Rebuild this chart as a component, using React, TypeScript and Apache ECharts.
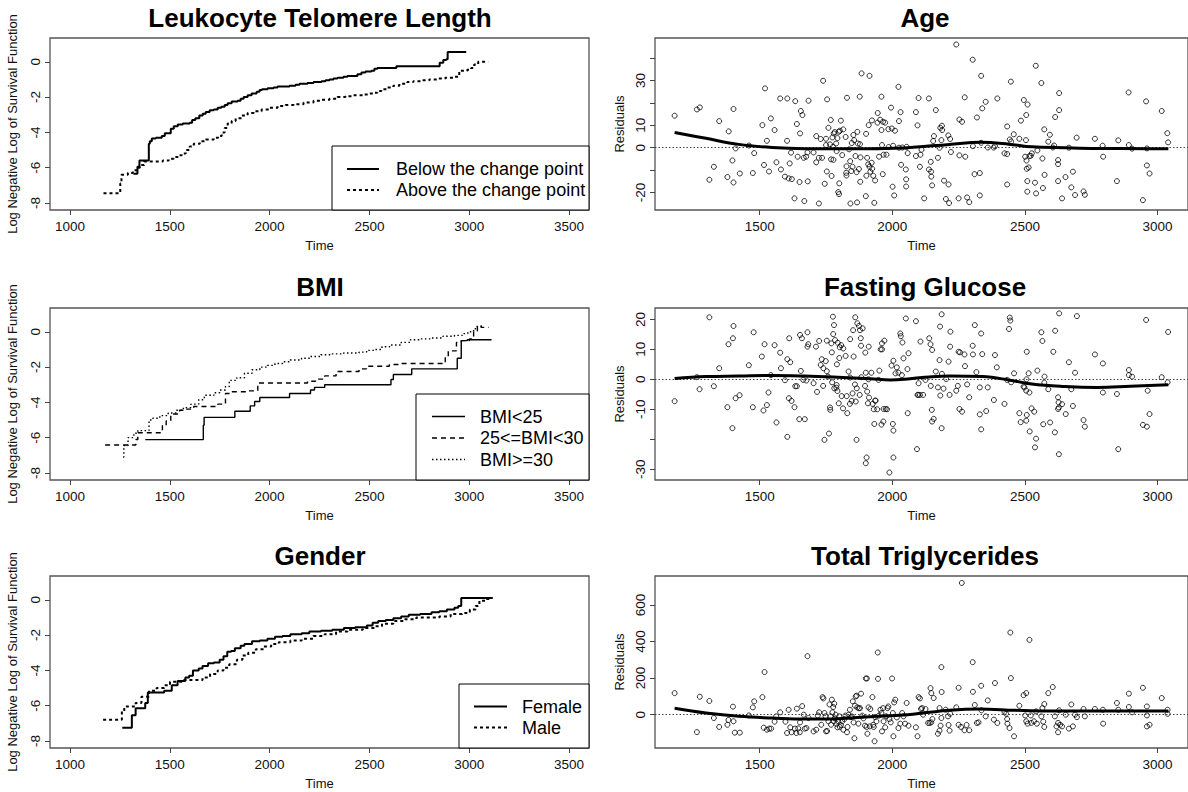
import React, { useEffect, useRef } from "react";
import * as echarts from "echarts";

const FONT = "'Liberation Sans', Arial, sans-serif";

// ---------- Left column: log(-log(S(t))) step curves ----------
const telomereBelow: [number, number][] = [
  [1318, -6.35], [1338, -5.95], [1348, -5.6], [1395, -4.65], [1400, -4.5], [1410, -4.35], [1430, -4.3], [1460, -4.2],
  [1475, -4.05], [1505, -3.8], [1520, -3.65], [1540, -3.55], [1565, -3.5], [1600, -3.45], [1612, -3.3], [1628, -3.2],
  [1648, -3.05], [1665, -2.95], [1680, -2.85], [1700, -2.75], [1720, -2.7], [1740, -2.6], [1758, -2.55], [1775, -2.45],
  [1790, -2.35], [1810, -2.25], [1840, -2.2], [1855, -2.1], [1870, -2.0], [1890, -1.9], [1910, -1.8], [1935, -1.7],
  [1950, -1.6], [1962, -1.55], [1990, -1.5], [2020, -1.45], [2040, -1.4], [2100, -1.35], [2130, -1.3], [2150, -1.25],
  [2190, -1.2], [2220, -1.15], [2260, -1.1], [2280, -1.05], [2300, -1.0], [2320, -0.95], [2340, -0.9], [2370, -0.85],
  [2390, -0.8], [2440, -0.7], [2460, -0.6], [2480, -0.55], [2510, -0.5], [2525, -0.4], [2540, -0.35], [2635, -0.25],
  [2852, -0.05], [2870, 0.1], [2885, 0.15], [2892, 0.55], [2985, 0.55],
];
const telomereAbove: [number, number][] = [
  [1168, -7.45], [1252, -6.9], [1258, -6.4], [1290, -6.3], [1315, -6.15], [1335, -6.0], [1350, -5.85], [1372, -5.65],
  [1465, -5.6], [1495, -5.5], [1520, -5.4], [1540, -5.3], [1560, -5.2], [1580, -5.0], [1600, -4.8], [1620, -4.65],
  [1650, -4.5], [1680, -4.4], [1720, -4.3], [1742, -4.2], [1760, -4.0], [1775, -3.75], [1790, -3.5], [1810, -3.35],
  [1830, -3.2], [1860, -3.05], [1890, -2.9], [1920, -2.8], [1960, -2.7], [2000, -2.6], [2040, -2.5], [2080, -2.45],
  [2120, -2.4], [2170, -2.3], [2220, -2.2], [2260, -2.15], [2300, -2.1], [2340, -2.0], [2380, -1.95], [2420, -1.9],
  [2470, -1.85], [2500, -1.8], [2520, -1.75], [2540, -1.65], [2560, -1.55], [2590, -1.45], [2620, -1.35], [2650, -1.25],
  [2690, -1.15], [2720, -1.1], [2760, -1.05], [2800, -1.0], [2840, -0.95], [2880, -0.9], [2920, -0.85], [2950, -0.5],
  [2990, -0.45], [3010, -0.35], [3025, -0.15], [3045, 0.0], [3095, 0.0],
];
const bmiUnder25: [number, number][] = [
  [1377, -6.11], [1668, -5.3], [1672, -4.85], [1826, -4.5], [1903, -4.2], [1925, -3.95], [1951, -3.72], [2100, -3.5],
  [2205, -3.3], [2225, -3.15], [2276, -3.0], [2608, -2.7], [2620, -2.42], [2712, -2.1], [2940, -1.5], [2960, -0.5],
  [2990, -0.45], [3112, -0.45],
];
const bmi25to30: [number, number][] = [
  [1176, -6.42], [1330, -6.1], [1340, -5.72], [1463, -5.3], [1482, -5.05], [1505, -4.66], [1549, -4.45], [1570, -4.38],
  [1620, -4.23], [1740, -4.1], [1779, -3.5], [1810, -3.4], [1890, -3.35], [1941, -2.9], [2190, -2.8], [2230, -2.68],
  [2276, -2.5], [2333, -2.25], [2448, -2.1], [2486, -1.95], [2600, -1.85], [2659, -1.8], [2880, -1.4], [2895, -1.08],
  [2936, -0.6], [2960, -0.5], [3001, -0.4], [3022, 0.06], [3041, 0.34], [3060, 0.25], [3098, 0.25],
];
const bmiOver30: [number, number][] = [
  [1266, -7.1], [1270, -6.45], [1291, -6.0], [1320, -5.75], [1340, -5.6], [1396, -5.0], [1415, -4.9], [1450, -4.75],
  [1492, -4.6], [1530, -4.45], [1568, -4.3], [1606, -4.1], [1645, -3.85], [1673, -3.6], [1721, -3.45], [1750, -3.3],
  [1779, -3.1], [1798, -2.75], [1836, -2.6], [1874, -2.35], [1912, -2.15], [1951, -2.0], [1989, -1.9], [2027, -1.8],
  [2065, -1.7], [2103, -1.6], [2160, -1.5], [2199, -1.4], [2257, -1.3], [2314, -1.25], [2371, -1.2], [2448, -1.15],
  [2486, -1.05], [2525, -1.0], [2563, -0.85], [2601, -0.75], [2659, -0.6], [2706, -0.45], [2754, -0.4], [2811, -0.35],
  [2869, -0.25], [2926, -0.2], [2965, -0.1], [2993, 0.0], [3022, 0.1], [3031, 0.3], [3069, 0.3],
];
const genderFemale: [number, number][] = [
  [1262, -7.25], [1310, -6.55], [1329, -6.15], [1377, -5.85], [1390, -5.25], [1472, -5.15], [1510, -4.85], [1539, -4.6],
  [1578, -4.4], [1597, -4.3], [1616, -4.0], [1645, -3.9], [1664, -3.75], [1692, -3.6], [1721, -3.55], [1750, -3.4],
  [1769, -3.2], [1788, -2.95], [1807, -2.9], [1826, -2.75], [1855, -2.6], [1874, -2.5], [1912, -2.35], [1951, -2.3],
  [1989, -2.2], [2027, -2.1], [2065, -2.05], [2104, -1.95], [2161, -1.9], [2199, -1.8], [2257, -1.75], [2314, -1.7],
  [2372, -1.6], [2429, -1.55], [2487, -1.45], [2516, -1.3], [2544, -1.2], [2582, -1.15], [2620, -1.05], [2659, -0.95],
  [2697, -0.85], [2754, -0.8], [2811, -0.7], [2850, -0.65], [2888, -0.55], [2926, -0.45], [2945, -0.35], [2960, 0.1],
  [3118, 0.1],
];
const genderMale: [number, number][] = [
  [1166, -6.8], [1260, -6.3], [1272, -6.05], [1329, -5.85], [1358, -5.5], [1396, -5.15], [1434, -5.0], [1472, -4.85],
  [1501, -4.65], [1568, -4.55], [1664, -4.4], [1702, -4.2], [1740, -4.0], [1769, -3.85], [1798, -3.65], [1836, -3.4],
  [1864, -3.15], [1893, -3.0], [1931, -2.8], [1970, -2.65], [2008, -2.5], [2046, -2.4], [2104, -2.3], [2161, -2.2],
  [2219, -2.05], [2276, -1.95], [2333, -1.8], [2391, -1.7], [2467, -1.6], [2525, -1.5], [2563, -1.35], [2620, -1.2],
  [2678, -1.1], [2735, -1.0], [2850, -0.95], [2907, -0.8], [2965, -0.75], [3003, -0.55], [3032, -0.35], [3051, -0.05],
  [3081, 0.05], [3110, 0.05],
];

// ---------- Right column: residuals vs time ----------
const ageResiduals: [number, number][] = [
  [1179, 14.3], [1263, 17.1], [1274, 18.0], [1310, -14.3], [1327, -8.5], [1347, 11.9], [1378, -13.1], [1383, 7.3],
  [1397, -5.7], [1401, 17.3], [1401, -15.5], [1409, -0.3], [1425, -11.5], [1459, 1.0], [1474, -11.3], [1479, -2.4],
  [1510, 10.1], [1516, -7.7], [1520, 26.5], [1527, 3.1], [1535, -10.6], [1542, 13.1], [1556, 7.9], [1563, -6.5],
  [1577, 22.0], [1580, -9.7], [1595, -12.9], [1603, 3.1], [1604, 22.0], [1609, -13.7], [1613, -7.0], [1618, -2.2],
  [1621, -14.0], [1631, -22.6], [1634, 20.8], [1640, 10.6], [1643, -4.0], [1650, -15.3], [1652, 6.4], [1655, 16.4],
  [1661, 14.6], [1666, -4.5], [1668, -23.8], [1675, -4.0], [1680, -2.1], [1681, -15.0], [1684, 21.0], [1703, -2.1],
  [1713, 5.2], [1713, -6.5], [1723, -4.5], [1723, -24.9], [1730, 3.9], [1735, -4.5], [1739, 29.9], [1745, -16.1],
  [1750, 4.0], [1750, 1.2], [1753, -10.6], [1754, 21.6], [1759, 8.9], [1765, 1.5], [1768, 12.4], [1769, -5.2],
  [1771, -12.6], [1774, 4.6], [1776, 0.4], [1778, -5.4], [1779, 6.4], [1783, 7.0], [1788, 1.9], [1790, -1.5],
  [1793, 4.3], [1796, -19.8], [1798, 7.1], [1799, -20.7], [1800, -15.9], [1802, 7.6], [1806, 12.1], [1811, -3.3],
  [1815, 8.2], [1824, 4.8], [1826, -11.2], [1827, -8.3], [1827, -12.4], [1829, 22.3], [1837, -0.7], [1841, -6.0],
  [1842, -24.9], [1845, -10.4], [1847, 2.1], [1850, -8.5], [1853, 5.7], [1856, 3.4], [1861, -3.7], [1865, -10.9],
  [1867, -24.4], [1868, 7.1], [1870, 1.9], [1874, -9.5], [1877, 22.8], [1878, 1.6], [1879, -15.2], [1880, -4.3],
  [1884, 33.2], [1900, -21.6], [1901, 6.2], [1902, -12.5], [1905, -4.5], [1909, -7.4], [1911, 10.1], [1914, 32.1],
  [1914, -8.5], [1917, -10.7], [1922, -6.7], [1923, 12.2], [1924, -9.4], [1928, -12.5], [1932, -24.6], [1935, -14.6],
  [1944, 11.2], [1945, 15.5], [1950, -4.0], [1954, 12.5], [1959, 22.8], [1959, 7.9], [1961, 1.2], [1964, -11.8],
  [1965, 11.6], [1967, -3.1], [1973, 11.2], [1978, -3.1], [1985, 8.3], [1986, 0.3], [1995, 17.9], [1998, 8.6],
  [2001, -17.4], [2003, 0.9], [2007, -21.3], [2010, 7.6], [2023, 27.2], [2025, 11.9], [2025, 0.0], [2031, 15.9],
  [2033, -7.6], [2038, 0.1], [2051, -9.7], [2052, -14.1], [2052, -17.3], [2054, 0.4], [2058, -2.4], [2089, 15.9],
  [2089, -3.7], [2095, 10.0], [2099, 22.2], [2104, -8.5], [2106, -3.1], [2110, -0.9], [2120, -22.6], [2138, 22.0],
  [2164, 16.8], [2138, -9.7], [2145, -6.3], [2146, -10.7], [2147, -12.9], [2150, -16.8], [2154, 3.0], [2157, 5.2],
  [2172, -4.5], [2178, 0.0], [2181, 8.9], [2187, 9.8], [2188, 7.9], [2185, 3.4], [2195, -14.7], [2211, 5.5],
  [2212, -16.4], [2218, 3.9], [2221, -1.9], [2202, -22.9], [2214, -24.7], [2241, 46.1], [2250, -22.6], [2253, 12.6],
  [2263, 11.6], [2253, -3.4], [2273, 22.5], [2275, -4.0], [2282, -22.2], [2290, -24.3], [2303, 39.3], [2304, 0.7],
  [2310, -11.8], [2319, 13.5], [2330, -11.3], [2330, -21.3], [2335, 32.1], [2335, 2.2], [2339, 17.6], [2352, 20.5],
  [2360, 0.1], [2382, 0.1], [2387, 0.7], [2396, 22.0], [2423, -2.5], [2433, 9.5], [2433, -2.8], [2433, -16.4],
  [2443, 3.7], [2447, 29.5], [2448, 2.8], [2458, 6.0], [2479, 4.0], [2485, 12.1], [2496, 21.3], [2501, -4.0],
  [2504, 3.4], [2506, -5.7], [2507, -9.4], [2509, -14.9], [2509, -19.6], [2510, 19.3], [2505, 14.6], [2514, -8.8],
  [2517, -3.7], [2522, -3.6], [2526, -2.5], [2538, -15.6], [2541, 36.6], [2542, -20.4], [2547, -1.2], [2562, 28.9],
  [2566, -4.8], [2568, -18.0], [2573, 8.2], [2574, -12.1], [2588, 2.7], [2594, 5.8], [2605, 0.1], [2610, 1.0],
  [2614, 13.7], [2625, -5.5], [2625, -7.3], [2629, 24.4], [2629, 16.8], [2625, -14.9], [2640, -22.6], [2653, -13.1],
  [2666, 0.0], [2675, -17.7], [2681, -10.7], [2689, -21.1], [2695, 4.5], [2721, -19.5], [2726, -21.0], [2764, 4.0],
  [2793, 0.9], [2795, -4.0], [2847, -14.9], [2852, 3.3], [2891, 24.7], [2892, 1.2], [2904, -0.4], [2945, -23.4],
  [2957, 20.7], [2960, -0.3], [2960, -7.9], [2970, -11.5], [3016, 16.4], [3037, 6.5], [3040, 2.4],
];
const ageSmooth: [number, number][] = [
  [1179, 6.8], [1297, 4.2], [1421, 1.5], [1546, 0.1], [1670, -0.4], [1794, -0.4], [1918, -0.4], [2042, -0.1],
  [2092, 0.3], [2216, 1.5], [2334, 2.4], [2439, 1.6], [2526, 0.4], [2650, 0.0], [2774, -0.3], [2960, -0.4], [3041, -0.4],
];

const glucoseResiduals: [number, number][] = [
  [1179, -7.3], [1263, 0.7], [1273, -3.3], [1310, 20.7], [1327, -2.3], [1347, 3.7], [1378, -9.3], [1382, 11.7],
  [1399, 13.7], [1401, 17.8], [1397, -16.3], [1409, -6.3], [1424, -5.3], [1459, 4.7], [1474, -9.3], [1477, 15.7],
  [1508, 7.6], [1514, -10.4], [1518, 11.7], [1527, -8.6], [1533, -4.4], [1542, 1.4], [1556, 11.4], [1563, -14.4],
  [1577, 8.9], [1580, 3.7], [1595, -0.3], [1604, 6.7], [1604, -19.2], [1611, 13.7], [1610, -6.3], [1615, 5.7],
  [1620, -7.2], [1631, -9.3], [1634, -2.3], [1640, -2.3], [1649, -13.3], [1652, 14.8], [1655, 2.8], [1659, 13.7],
  [1664, -0.2], [1670, -13.3], [1676, -0.4], [1680, 15.7], [1680, 10.9], [1683, 11.7], [1703, -1.3], [1712, 10.9],
  [1716, -4.2], [1724, 12.8], [1730, 4.8], [1734, 6.7], [1739, -2.2], [1740, 3.7], [1744, -20.2], [1749, 6.1],
  [1753, 2.7], [1753, 12.9], [1757, 0.9], [1761, -18.1], [1765, -9.4], [1766, -10.2], [1770, 12.0], [1772, 9.0],
  [1773, -1.0], [1776, 20.9], [1780, 18.1], [1777, 15.1], [1781, -3.0], [1784, 13.1], [1789, -2.8], [1790, -1.9],
  [1791, 5.0], [1793, -3.9], [1794, 12.2], [1798, -8.0], [1800, 7.1], [1802, 10.7], [1807, 11.4], [1809, -5.6],
  [1814, -9.7], [1815, 10.3], [1824, 7.8], [1828, -5.6], [1830, -11.3], [1835, 2.6], [1841, 13.4], [1840, -8.2],
  [1841, 0.6], [1847, -7.2], [1850, -4.7], [1852, 16.4], [1854, 7.6], [1860, 20.7], [1859, -1.7], [1862, -7.4],
  [1865, -20.2], [1866, -3.0], [1868, 18.7], [1874, 17.8], [1877, -5.2], [1878, 16.4], [1881, 13.7], [1882, 11.2],
  [1883, 0.7], [1888, 17.0], [1897, -2.2], [1898, 8.9], [1900, 2.2], [1900, -28.0], [1903, -26.1], [1905, -4.1],
  [1908, -8.0], [1910, 0.0], [1911, 10.9], [1912, -6.1], [1921, 2.2], [1926, -8.2], [1930, -10.0], [1932, -14.9],
  [1935, -7.1], [1937, -7.1], [1943, -10.0], [1948, -0.2], [1951, 2.9], [1956, 10.0], [1959, -15.1], [1961, 10.0],
  [1966, -14.1], [1961, 12.0], [1967, -9.9], [1970, 12.9], [1975, -9.9], [1980, -10.0], [1989, -31.1], [1997, 4.6],
  [2002, -14.9], [2004, 6.2], [2004, -17.1], [2004, -26.1], [2012, 2.0], [2017, 4.0], [2023, 2.2], [2030, 15.3],
  [2032, 14.4], [2036, 1.4], [2038, 12.3], [2042, 7.0], [2051, 20.3], [2057, 3.4], [2058, -11.3], [2061, 8.7],
  [2089, 19.4], [2095, -5.2], [2098, -5.2], [2104, -5.2], [2093, -23.3], [2106, 12.6], [2116, -5.2], [2099, -1.3],
  [2125, -0.2], [2139, 13.7], [2144, 11.7], [2145, -2.2], [2150, 9.8], [2149, -10.2], [2150, -14.1], [2156, -13.2],
  [2164, 2.6], [2172, -2.7], [2178, 6.4], [2180, 17.6], [2181, -5.4], [2186, 21.7], [2187, 1.8], [2186, -16.3],
  [2193, -3.1], [2203, 0.1], [2212, 5.9], [2216, -5.2], [2219, 15.9], [2218, 10.9], [2241, -3.8], [2247, -2.2],
  [2250, 9.2], [2253, -9.9], [2255, 9.0], [2263, -10.8], [2272, 8.3], [2274, 4.4], [2282, -1.7], [2290, -6.0],
  [2303, 11.2], [2304, 8.3], [2311, 18.1], [2317, 2.4], [2330, -2.7], [2330, -11.7], [2335, 15.3], [2335, -16.7],
  [2339, 8.4], [2354, -10.6], [2360, -2.7], [2383, -6.9], [2387, 8.1], [2394, 4.0], [2423, -8.2], [2433, -0.2],
  [2440, 16.8], [2443, 20.6], [2445, 19.6], [2448, -1.0], [2459, 2.0], [2479, -11.3], [2484, -14.3], [2495, -2.4],
  [2498, -2.7], [2505, -3.8], [2506, 0.0], [2507, 9.2], [2507, -11.9], [2505, -13.8], [2514, 2.0], [2517, -4.4],
  [2518, -17.4], [2525, -9.7], [2535, -10.8], [2538, -22.7], [2542, -19.8], [2547, 2.9], [2562, 15.7], [2566, 12.8],
  [2569, -15.0], [2574, 0.9], [2573, -1.1], [2588, -3.3], [2595, -14.4], [2607, 9.2], [2613, -17.7], [2614, 16.2],
  [2625, -6.0], [2627, -7.7], [2628, -9.4], [2625, -9.9], [2628, -25.0], [2629, 22.0], [2640, -8.3], [2654, -11.6],
  [2666, 5.7], [2675, -3.3], [2681, -8.9], [2689, 2.2], [2696, 21.1], [2721, -13.6], [2726, -15.8], [2764, 8.3],
  [2794, 5.3], [2794, -4.4], [2847, -4.9], [2852, -23.3], [2892, 3.1], [2892, 1.4], [2904, 0.9], [2945, -15.2],
  [2957, 19.8], [2960, -15.8], [2963, -3.8], [2970, -11.6], [3016, 0.7], [3038, -1.0], [3040, 15.8],
];
const glucoseSmooth: [number, number][] = [
  [1179, 0.3], [1297, 0.9], [1421, 1.1], [1546, 1.3], [1670, 1.1], [1794, 0.7], [1918, 0.2], [1992, -0.2],
  [2067, 0.2], [2140, 0.8], [2216, 1.1], [2340, 0.9], [2439, -0.2], [2526, -1.6], [2650, -2.4], [2774, -2.7],
  [2898, -2.3], [3041, -1.8],
];

const triglycResiduals: [number, number][] = [
  [1179, 118], [1263, -95], [1274, 98], [1310, 75], [1327, -18], [1347, -67], [1378, -55], [1382, -29],
  [1399, 44], [1401, -36], [1406, -98], [1425, -98], [1459, -4], [1474, 40], [1479, 73], [1510, 96],
  [1515, -71], [1518, 233], [1527, -82], [1536, -76], [1543, -76], [1556, -38], [1562, -9], [1577, 13],
  [1597, -38], [1603, -100], [1609, 27], [1615, -69], [1620, -96], [1633, -76], [1638, -100], [1640, 33],
  [1645, -75], [1651, -96], [1652, -42], [1660, 47], [1666, 0], [1670, -76], [1676, -73], [1680, 320],
  [1684, -18], [1703, -91], [1713, -82], [1719, -4], [1724, 13], [1732, -55], [1737, 96], [1740, 89],
  [1744, 9], [1748, -9], [1750, -91], [1754, -89], [1759, -36], [1763, 56], [1767, -9], [1769, -55],
  [1772, 82], [1774, 13], [1777, 42], [1779, -36], [1781, 60], [1784, -20], [1786, 0], [1789, -49],
  [1793, -69], [1796, -36], [1800, -9], [1802, -67], [1806, -56], [1811, -36], [1815, -82], [1819, -24],
  [1823, -5], [1829, -96], [1831, -67], [1835, 0], [1840, 27], [1844, -13], [1847, -9], [1851, 73],
  [1854, -42], [1857, -129], [1859, 49], [1862, 100], [1865, 104], [1868, 40], [1872, -49], [1874, 35],
  [1878, 36], [1882, 115], [1887, -5], [1891, -20], [1897, -60], [1900, 198], [1903, -67], [1904, 198],
  [1906, -104], [1910, 40], [1915, -64], [1917, 31], [1925, 96], [1928, -55], [1930, -67], [1933, -145],
  [1935, -13], [1940, -36], [1945, 340], [1946, 196], [1949, -5], [1955, 27], [1959, 9], [1961, -91],
  [1965, 36], [1967, -36], [1973, -69], [1977, -9], [1982, 36], [1985, 45], [1989, -24], [1994, -42],
  [1999, 198], [2002, 9], [2004, -118], [2007, 67], [2011, 82], [2017, -15], [2023, -73], [2030, -49],
  [2037, 9], [2042, -9], [2048, -49], [2054, 64], [2061, -60], [2089, -69], [2095, -118], [2099, 96],
  [2104, 89], [2108, 31], [2112, 36], [2116, 0], [2125, 31], [2144, 145], [2147, 118], [2156, 91],
  [2141, -45], [2135, -45], [2147, -42], [2151, -24], [2178, 36], [2185, 260], [2186, 124], [2185, -18],
  [2182, -60], [2172, -104], [2178, -87], [2201, 27], [2210, -9], [2212, -56], [2216, -87], [2218, 5],
  [2241, 40], [2250, 147], [2250, -55], [2259, -67], [2272, -85], [2280, -56], [2290, -85], [2262, 720],
  [2303, 287], [2304, 125], [2311, 53], [2319, -45], [2325, -42], [2335, 158], [2336, 24], [2352, -9],
  [2360, 78], [2383, -27], [2387, 173], [2396, -45], [2423, 16], [2429, 5], [2433, -24], [2434, -49],
  [2442, -73], [2445, 449], [2447, 200], [2459, -118], [2479, 49], [2495, 107], [2505, 118], [2501, -4],
  [2505, -36], [2510, -49], [2517, 409], [2522, -4], [2524, -45], [2534, -36], [2542, 18], [2545, -49],
  [2562, -9], [2566, 36], [2569, -38], [2573, 58], [2573, -67], [2588, 118], [2605, 151], [2613, -9],
  [2619, -64], [2625, -45], [2625, -96], [2629, 24], [2633, -55], [2640, -64], [2654, 0], [2666, -76],
  [2675, 56], [2681, -64], [2689, 0], [2696, -13], [2721, 31], [2726, -9], [2764, 31], [2794, 27],
  [2795, -49], [2847, 64], [2852, 27], [2892, 115], [2892, 42], [2904, 13], [2945, 147], [2960, 45],
  [2960, -4], [2960, -64], [2970, -55], [3016, 91], [3038, 27], [3038, 5],
];
const triglycSmooth: [number, number][] = [
  [1179, 35], [1297, 9], [1421, -9], [1546, -18], [1670, -24], [1794, -22], [1918, -11], [2042, -2],
  [2092, 5], [2216, 24], [2327, 31], [2464, 24], [2588, 20], [2774, 20], [3041, 20],
];

// ---------- Axis tick values ----------
const leftTimeTicks = [1000, 1500, 2000, 2500, 3000, 3500];
const rightTimeTicks = [1500, 2000, 2500, 3000];
const loglogTicks = [-8, -6, -4, -2, 0];
const ageTicks = [-20, -10, 0, 10, 20, 30, 40];
const ageLabels = [-20, 0, 10, 30];
const glucoseTicks = [-30, -20, -10, 0, 10, 20];
const glucoseLabels = [-30, -10, 0, 10, 20];
const triglycTicks = [0, 200, 400, 600];

const panelTitles = ["Leukocyte Telomere Length", "Age", "BMI", "Fasting Glucose", "Gender", "Total Triglycerides"];
const telomereLegend = ["Below the change point", "Above the change point"];
const bmiLegend = ["BMI<25", "25<=BMI<30", "BMI>=30"];
const genderLegend = ["Female", "Male"];

export default function App() {
  const ref = useRef<HTMLDivElement>(null);
  useEffect(() => {
    if (!ref.current) return;
    const chart = echarts.init(ref.current, undefined, { renderer: "svg" });

    const grids = [
      { left: 50, top: 38, width: 539, height: 172 },
      { left: 655, top: 38, width: 540, height: 172 },
      { left: 50, top: 308, width: 539, height: 172 },
      { left: 655, top: 308, width: 540, height: 172 },
      { left: 50, top: 576, width: 539, height: 172 },
      { left: 655, top: 576, width: 540, height: 172 },
    ].map((g) => ({ ...g, show: true, borderColor: "#555", borderWidth: 1.3, backgroundColor: "transparent" }));

    const fmt = (v: number) => String(v);
    const tickStyle = { show: true, inside: false, length: 5, lineStyle: { color: "#444", width: 1 } };
    const labelStyle = { fontSize: 13.5, color: "#111", fontFamily: FONT, formatter: fmt };
    const nameStyle = { fontSize: 13, color: "#111", fontFamily: FONT };

    const xAxis = [0, 1, 2, 3, 4, 5].map((i) => {
      const isLeft = i % 2 === 0;
      const ticks = isLeft ? leftTimeTicks : rightTimeTicks;
      return {
        type: "value",
        gridIndex: i,
        position: "bottom",
        min: isLeft ? 900 : 1105,
        max: isLeft ? 3600 : 3115,
        axisLine: { show: false, onZero: false },
        splitLine: { show: false },
        axisTick: { ...tickStyle, customValues: ticks },
        axisLabel: { ...labelStyle, margin: 9, customValues: ticks },
        name: "Time",
        nameLocation: "middle",
        nameGap: 29,
        nameTextStyle: nameStyle,
      };
    });

    const yRanges = [
      { min: -8.4, max: 1.35, ticks: loglogTicks, labels: loglogTicks },
      { min: -27.8, max: 49.0, ticks: ageTicks, labels: ageLabels },
      { min: -8.4, max: 1.35, ticks: loglogTicks, labels: loglogTicks },
      { min: -33.6, max: 23.8, ticks: glucoseTicks, labels: glucoseLabels },
      { min: -8.4, max: 1.35, ticks: loglogTicks, labels: loglogTicks },
      { min: -182, max: 758, ticks: triglycTicks, labels: triglycTicks },
    ];
    const yAxis = yRanges.map((r, i) => ({
      type: "value",
      gridIndex: i,
      position: "left",
      min: r.min,
      max: r.max,
      axisLine: { show: false, onZero: false },
      splitLine: { show: false },
      axisTick: { ...tickStyle, customValues: r.ticks },
      axisLabel: { ...labelStyle, rotate: 90, margin: 8, customValues: r.labels },
      name: i % 2 === 0 ? "Log Negative Log of Survival Function" : "Residuals",
      nameLocation: "middle",
      nameGap: i % 2 === 0 ? 31 : 29,
      nameTextStyle: nameStyle,
    }));

    const step = (data: [number, number][], idx: number, width: number, type: any) => ({
      type: "line",
      xAxisIndex: idx,
      yAxisIndex: idx,
      data,
      step: "end",
      symbol: "none",
      showSymbol: false,
      lineStyle: { color: "#000", width, type },
      silent: true,
    });
    const scatter = (data: [number, number][], idx: number) => ({
      type: "scatter",
      xAxisIndex: idx,
      yAxisIndex: idx,
      data,
      symbol: "circle",
      symbolSize: 5,
      itemStyle: { color: "rgba(0,0,0,0)", borderColor: "#000", borderWidth: 1 },
      silent: true,
      markLine: {
        silent: true,
        symbol: ["none", "none"],
        label: { show: false },
        lineStyle: { color: "#444", width: 1, type: [1.5, 2] },
        data: [{ yAxis: 0 }],
      },
    });
    const smooth = (data: [number, number][], idx: number) => ({
      type: "line",
      xAxisIndex: idx,
      yAxisIndex: idx,
      data,
      smooth: 0.4,
      symbol: "none",
      showSymbol: false,
      lineStyle: { color: "#000", width: 3 },
      z: 5,
      silent: true,
    });

    const series = [
      step(telomereBelow, 0, 2, "solid"),
      step(telomereAbove, 0, 2, [3, 3]),
      scatter(ageResiduals, 1),
      smooth(ageSmooth, 1),
      step(bmiUnder25, 2, 1.4, "solid"),
      step(bmi25to30, 2, 1.4, [5, 4]),
      step(bmiOver30, 2, 1.4, [1.5, 2.5]),
      scatter(glucoseResiduals, 3),
      smooth(glucoseSmooth, 3),
      step(genderFemale, 4, 2, "solid"),
      step(genderMale, 4, 2, [3, 3]),
      scatter(triglycResiduals, 5),
      smooth(triglycSmooth, 5),
    ];

    const titlePos = [
      [320, 18], [925, 18], [320, 287], [925, 287], [320, 556], [925, 556],
    ];
    const titles = panelTitles.map((t, i) => ({
      type: "text",
      x: titlePos[i][0],
      y: titlePos[i][1],
      style: {
        text: t,
        fontSize: 26,
        fontWeight: "bold",
        fontFamily: FONT,
        fill: "#000",
        align: "center",
        verticalAlign: "middle",
      },
    }));

    const legendBlock = (
      box: { x: number; y: number; w: number; h: number },
      lx1: number,
      lx2: number,
      tx: number,
      rows: number[],
      labels: string[],
      styles: { width: number; dash: any }[]
    ) => {
      const els: any[] = [
        {
          type: "rect",
          shape: { x: box.x, y: box.y, width: box.w, height: box.h },
          style: { fill: "#fff", stroke: "#000", lineWidth: 1 },
          z: 10,
        },
      ];
      labels.forEach((lab, k) => {
        els.push({
          type: "line",
          shape: { x1: lx1, y1: rows[k], x2: lx2, y2: rows[k] },
          style: { stroke: "#000", lineWidth: styles[k].width, lineDash: styles[k].dash },
          z: 11,
        });
        els.push({
          type: "text",
          x: tx,
          y: rows[k],
          style: { text: lab, fontSize: 18, fontFamily: FONT, fill: "#000", align: "left", verticalAlign: "middle" },
          z: 11,
        });
      });
      return els;
    };

    const graphic = [
      ...titles,
      ...legendBlock({ x: 332, y: 146, w: 257, h: 64 }, 347, 379, 396, [169, 190], telomereLegend, [
        { width: 2, dash: null },
        { width: 2, dash: [3, 3] },
      ]),
      ...legendBlock({ x: 416, y: 394, w: 173, h: 86 }, 432, 465, 480, [416.5, 438, 459.5], bmiLegend, [
        { width: 1.4, dash: null },
        { width: 1.4, dash: [5, 4] },
        { width: 1.4, dash: [1.5, 2.5] },
      ]),
      ...legendBlock({ x: 459, y: 684, w: 130, h: 64 }, 474, 507, 522, [706.5, 727.5], genderLegend, [
        { width: 2, dash: null },
        { width: 2, dash: [3, 3] },
      ]),
    ];

    chart.setOption({
      animation: false,
      backgroundColor: "#fff",
      grid: grids,
      xAxis,
      yAxis,
      series,
      graphic,
    });

    return () => chart.dispose();
  }, []);

  return (
    <div
      ref={ref}
      style={{ position: "fixed", left: 0, top: 0, width: 1188, height: 792, overflow: "hidden", background: "#fff" }}
    />
  );
}
